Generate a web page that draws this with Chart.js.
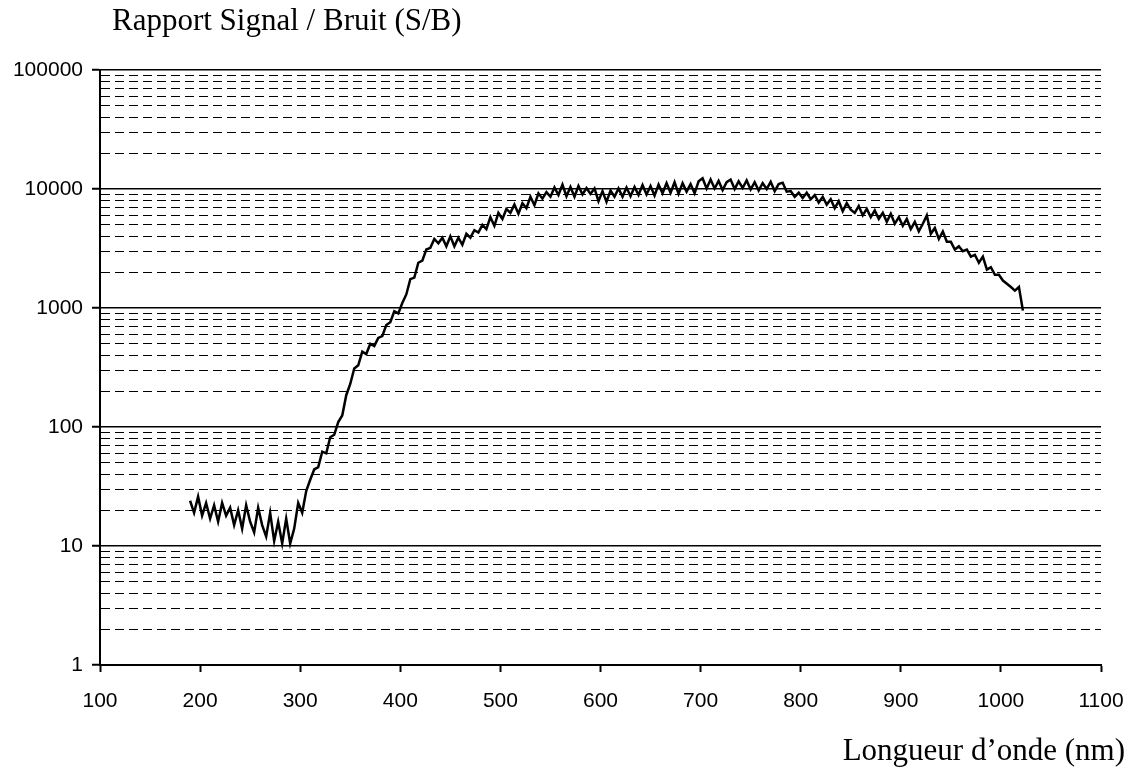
<!DOCTYPE html>
<html>
<head>
<meta charset="utf-8">
<script src="https://cdn.jsdelivr.net/npm/chart.js@4/dist/chart.umd.min.js"></script>
<style>
  html, body { margin: 0; padding: 0; background: #fff; }
  #wrap { width: 1134px; height: 771px; position: relative; }
</style>
</head>
<body>
<div id="wrap"><canvas id="c" width="1134" height="771"></canvas></div>
<script>
const chartTitle = 'Rapport Signal / Bruit (S/B)';
const xAxisTitle = 'Longueur d\u2019onde (nm)';
const xTickValues = [100, 200, 300, 400, 500, 600, 700, 800, 900, 1000, 1100];
const yMajorTicks = [1, 10, 100, 1000, 10000, 100000];
const yTickLabels = ['1', '10', '100', '1000', '10000', '100000'];
const yMinorMultipliers = [2, 3, 4, 5, 6, 7, 8, 9];

const wavelengths = [
  190,194,198,202,206,210,214,218,222,226,
  230,234,238,242,246,250,254,258,262,266,
  270,274,278,282,286,290,294,298,302,306,
  310,314,318,322,326,330,334,338,342,346,
  350,354,358,362,366,370,374,378,382,386,
  390,394,398,402,406,410,414,418,422,426,
  430,434,438,442,446,450,454,458,462,466,
  470,474,478,482,486,490,494,498,502,506,
  510,514,518,522,526,530,534,538,542,546,
  550,554,558,562,566,570,574,578,582,586,
  590,594,598,602,606,610,614,618,622,626,
  630,634,638,642,646,650,654,658,662,666,
  670,674,678,682,686,690,694,698,702,706,
  710,714,718,722,726,730,734,738,742,746,
  750,754,758,762,766,770,774,778,782,786,
  790,794,798,802,806,810,814,818,822,826,
  830,834,838,842,846,850,854,858,862,866,
  870,874,878,882,886,890,894,898,902,906,
  910,914,918,922,926,930,934,938,942,946,
  950,954,958,962,966,970,974,978,982,986,
  990,994,998,1002,1006,1010,1014,1018,1022
];

const snrValues = [
  24,19,26,18,23,17,22,16,23,18,
  21,15,20,14,22,16,13,21,15,12,
  19,11,16,10.5,17,10.5,14,23,19,29,
  36,44,46,62,60,82,86,110,125,185,
  230,310,330,430,410,500,480,560,580,720,
  760,940,900,1100,1300,1750,1800,2400,2500,3100,
  3200,3800,3500,3900,3300,4000,3300,3900,3400,4200,
  3900,4500,4300,5000,4600,5800,4900,6300,5600,6800,
  6300,7400,6200,7600,6900,8600,7300,9200,8300,9400,
  8600,10300,8900,10900,8700,10400,8600,10600,9000,10200,
  9100,10100,7900,9600,7800,9700,8600,10100,8600,10300,
  8700,10400,8900,10800,9000,10600,8800,10900,9200,11200,
  9300,11400,9100,11200,9500,11000,9200,11600,12300,10100,
  12000,10100,11700,9800,11400,12000,10000,11600,10200,11800,
  9900,11400,9700,11200,10000,11500,9600,11000,11300,9500,
  9600,8600,9300,8400,9300,8200,8900,7700,8600,7400,
  8200,6900,7900,6500,7600,6700,6300,7200,6000,6800,
  5800,6600,5600,6300,5300,6200,5100,5800,4900,5600,
  4600,5300,4400,5100,6000,4200,4700,3800,4400,3600,
  3600,3100,3300,3000,3100,2700,2800,2400,2700,2100,
  2200,1900,1900,1700,1600,1500,1400,1500,950
];

const isMajor = v => yMajorTicks.includes(v);

const points = wavelengths.map((w, i) => ({ x: w, y: snrValues[i] }));

const textPlugin = {
  id: 'texts',
  afterDraw(chart) {
    const ctx = chart.ctx;
    ctx.save();
    ctx.fillStyle = '#000';
    ctx.font = '31px "Liberation Serif", "Times New Roman", serif';
    ctx.textAlign = 'left';
    ctx.textBaseline = 'alphabetic';
    ctx.fillText(chartTitle, 112, 30);
    ctx.textAlign = 'right';
    ctx.fillText(xAxisTitle, 1125, 760);
    ctx.restore();
  }
};

new Chart(document.getElementById('c'), {
  type: 'line',
  data: {
    datasets: [{
      data: points,
      borderColor: '#000',
      borderWidth: 2.5,
      pointRadius: 0,
      tension: 0,
      fill: false
    }]
  },
  options: {
    responsive: false,
    animation: false,
    events: [],
    layout: { padding: { top: 70, right: 33, left: 0, bottom: 0 } },
    plugins: { legend: { display: false }, tooltip: { enabled: false }, title: { display: false } },
    scales: {
      x: {
        type: 'linear',
        min: 100,
        max: 1100,
        afterFit(scale) { scale.height = 106; scale.paddingLeft = 0; scale.paddingRight = 0; },
        afterBuildTicks(scale) { scale.ticks = xTickValues.map(v => ({ value: v })); },
        ticks: {
          autoSkip: false,
          maxRotation: 0,
          color: '#000',
          padding: 17,
          font: { family: '"Liberation Sans", Arial, sans-serif', size: 21 },
          callback: v => String(v)
        },
        grid: {
          drawOnChartArea: false,
          drawTicks: true,
          tickLength: 7,
          tickWidth: 2,
          tickColor: '#000'
        },
        border: { display: true, color: '#000', width: 2 }
      },
      y: {
        type: 'logarithmic',
        min: 1,
        max: 100000,
        afterFit(scale) { scale.width = 100; scale.paddingTop = 0; scale.paddingBottom = 0; },
        afterBuildTicks(scale) {
          const t = [];
          yMajorTicks.forEach(m => {
            t.push({ value: m, major: true });
            if (m < 100000) yMinorMultipliers.forEach(k => t.push({ value: m * k }));
          });
          scale.ticks = t;
        },
        ticks: {
          autoSkip: false,
          color: '#000',
          padding: 9,
          font: { family: '"Liberation Sans", Arial, sans-serif', size: 21 },
          callback: v => { const i = yMajorTicks.indexOf(v); return i >= 0 ? yTickLabels[i] : ''; }
        },
        grid: {
          drawOnChartArea: true,
          drawTicks: true,
          color: '#000',
          lineWidth: ctx => (ctx.tick && isMajor(ctx.tick.value)) ? 1.5 : 1,
          tickLength: 8,
          tickWidth: 2,
          tickColor: ctx => (ctx.tick && isMajor(ctx.tick.value)) ? '#000' : 'rgba(0,0,0,0)'
        },
        border: {
          display: true,
          color: '#000',
          width: 2,
          dash: ctx => (ctx.tick && !isMajor(ctx.tick.value)) ? [9, 5] : []
        }
      }
    }
  },
  plugins: [textPlugin]
});
</script>
</body>
</html>
